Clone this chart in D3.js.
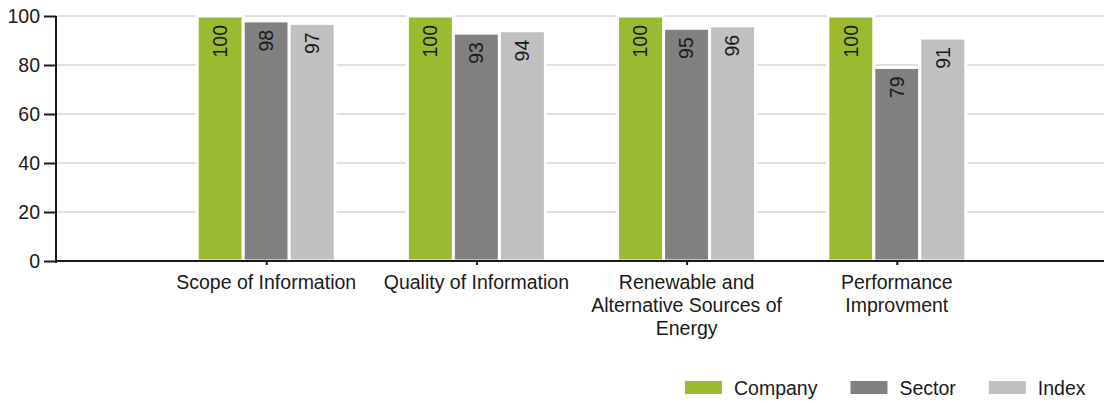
<!DOCTYPE html>
<html>
<head>
<meta charset="utf-8">
<script src="https://cdn.jsdelivr.net/npm/d3@7"></script>
<style>
  html, body { margin: 0; padding: 0; background: #fff; }
  svg { display: block; font-family: "Liberation Sans", Arial, sans-serif; }
</style>
</head>
<body>
<svg id="chart" width="1104" height="403"></svg>
<script>
// Categories and series values
const categories = [
  "Scope of Information",
  "Quality of Information",
  "Renewable and Alternative Sources of Energy",
  "Performance Improvment"
];
const seriesNames = ["Company", "Sector", "Index"];
const companyValues = [100, 100, 100, 100];
const sectorValues = [98, 93, 95, 79];
const indexValues = [97, 94, 96, 91];
const yTicks = [0, 20, 40, 60, 80, 100];

const seriesValues = [companyValues, sectorValues, indexValues];
const colors = ["#9aba2f", "#808080", "#c0c0c0"];

const svg = d3.select("#chart");
const W = 1104;
const plotLeft = 56, plotTop = 16, plotBottom = 261;
const fontSize = 19.5;
const textColor = "#1a1a1a";

const y = d3.scaleLinear().domain([0, 100]).range([plotBottom, plotTop]);
const x = d3.scalePoint().domain(categories).range([plotLeft, W + 3]).padding(1);
const barStep = 46;
const inner = d3.scaleBand().domain(seriesNames)
  .range([-barStep * 1.5, barStep * 1.5]).padding(0);

// Horizontal grid lines
svg.append("g")
  .selectAll("line")
  .data(yTicks.filter(d => d > 0))
  .join("line")
  .attr("x1", plotLeft + 1).attr("x2", W)
  .attr("y1", d => y(d)).attr("y2", d => y(d))
  .attr("stroke", "#e0e0e0").attr("stroke-width", 2);

// Bars
const groups = svg.append("g")
  .selectAll("g")
  .data(categories)
  .join("g")
  .attr("transform", d => `translate(${x(d)},0)`);

const bars = groups.selectAll("g.bar")
  .data((d, i) => seriesNames.map((s, j) => ({ s, v: seriesValues[j][i], j })))
  .join("g").attr("class", "bar");

bars.append("rect")
  .attr("x", d => inner(d.s))
  .attr("width", inner.bandwidth())
  .attr("y", d => y(d.v))
  .attr("height", d => y(0) - y(d.v))
  .attr("fill", d => colors[d.j])
  .attr("stroke", "#fff")
  .attr("stroke-width", 3);

// Value labels, rotated inside the top of each bar
bars.append("text")
  .attr("transform", d => `translate(${inner(d.s) + inner.bandwidth() / 2},${y(d.v) + 9}) rotate(-90)`)
  .attr("text-anchor", "end")
  .attr("dy", "0.35em")
  .attr("font-size", fontSize)
  .attr("fill", textColor)
  .text(d => d.v);

// Y axis
const yAxis = svg.append("g")
  .attr("transform", `translate(${plotLeft},0)`)
  .call(d3.axisLeft(y).tickValues(yTicks).tickSize(12).tickPadding(4).tickSizeOuter(0));
yAxis.select(".domain").attr("stroke", "#1a1a1a").attr("stroke-width", 2)
  .attr("d", `M0,${plotTop}V${plotBottom + 2}`);
yAxis.selectAll(".tick line").attr("stroke", "#1a1a1a").attr("stroke-width", 2);
yAxis.selectAll(".tick text")
  .attr("font-size", fontSize).attr("fill", textColor)
  .attr("font-family", "Liberation Sans, Arial, sans-serif");

// X axis
const xAxis = svg.append("g")
  .attr("transform", `translate(0,${plotBottom})`)
  .call(d3.axisBottom(x).tickSize(4).tickSizeOuter(0).tickFormat(""));
xAxis.select(".domain").attr("stroke", "#1a1a1a").attr("stroke-width", 2)
  .attr("d", `M${plotLeft - 1},0H${W}`);
xAxis.selectAll(".tick line").attr("stroke", "#1a1a1a").attr("stroke-width", 2);

// Category labels, wrapped to the category width
const maxLabelWidth = 204;
const labelG = svg.append("g");
categories.forEach(cat => {
  const t = labelG.append("text")
    .attr("x", x(cat)).attr("y", 289)
    .attr("text-anchor", "middle")
    .attr("font-size", fontSize).attr("fill", textColor);
  const words = cat.split(" ");
  let line = [];
  let tspan = t.append("tspan").attr("x", x(cat)).attr("dy", 0);
  words.forEach(w => {
    line.push(w);
    tspan.text(line.join(" "));
    if (tspan.node().getComputedTextLength() > maxLabelWidth && line.length > 1) {
      line.pop();
      tspan.text(line.join(" "));
      line = [w];
      tspan = t.append("tspan").attr("x", x(cat)).attr("dy", 23).text(w);
    }
  });
});

// Legend
const legend = svg.append("g");
let lx = 685;
seriesNames.forEach((name, i) => {
  legend.append("rect")
    .attr("x", lx).attr("y", 381)
    .attr("width", 37).attr("height", 13)
    .attr("fill", colors[i]);
  const t = legend.append("text")
    .attr("x", lx + 49).attr("y", 395)
    .attr("font-size", fontSize).attr("fill", textColor)
    .text(name);
  lx += 49 + t.node().getComputedTextLength() + 33;
});
</script>
</body>
</html>
